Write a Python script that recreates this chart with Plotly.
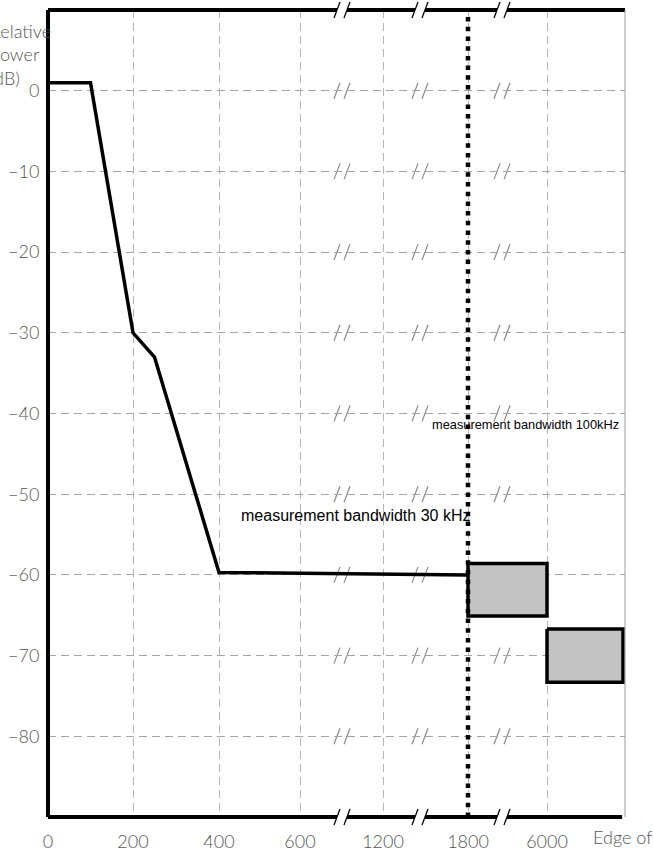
import numpy as np
import plotly.graph_objects as go

# ---------------- data ----------------
x_tick_labels = ["0", "200", "400", "600", "1200", "1800", "6000"]
x_tick_khz = [0, 200, 400, 600, 1200, 1800, 6000]
y_tick_vals = [0, -10, -20, -30, -40, -50, -60, -70, -80]
y_tick_labels = ["0", "\u221210", "\u221220", "\u221230", "\u221240", "\u221250",
                 "\u221260", "\u221270", "\u221280"]

mask_khz = [0, 100, 200, 250, 400, 1800]
mask_db = [1, 1, -30, -33, -59.7, -60]

box_left_khz = [1800, 6000]
box_top_db = [-58.6, -66.7]
box_bottom_db = [-65.1, -73.3]

marker_khz = 1800

# ---------------- broken-axis scale ----------------
X_TICK_POS = [0, 85, 171, 252, 335, 420, 499]   # display position of each tick
X_END = 577
Y_RANGE = [-90, 10]
BREAK_POS = [294, 372, 454]


def xpos(f):
    return np.interp(f, x_tick_khz, X_TICK_POS)


FONT_AX = "Liberation Sans Narrow, Lato, sans-serif"
GRAY_TXT = "#555555"
AXFONT = dict(family=FONT_AX, size=18, color=GRAY_TXT, weight=300)

fig = go.Figure()

# mask curve
fig.add_trace(go.Scatter(x=xpos(mask_khz), y=mask_db, mode="lines",
                         line=dict(color="black", width=3.5), hoverinfo="skip",
                         showlegend=False))

# boxes
lefts = list(xpos(box_left_khz))
rights = lefts[1:] + [X_END - 2]
for l, r, t, b in zip(lefts, rights, box_top_db, box_bottom_db):
    fig.add_trace(go.Scatter(x=[l, r, r, l, l], y=[t, t, b, b, t], mode="lines",
                             fill="toself", fillcolor="#c3c3c3",
                             line=dict(color="black", width=3.5),
                             hoverinfo="skip", showlegend=False))

# dotted marker line
mx = float(xpos(marker_khz))
fig.add_trace(go.Scatter(x=[mx, mx], y=Y_RANGE, mode="lines",
                         line=dict(color="black", width=4.5, dash="4.5px,5.2px"),
                         hoverinfo="skip", showlegend=False))

shapes = []
# frame
shapes.append(dict(type="line", xref="paper", yref="paper", x0=0, x1=0, y0=0, y1=1,
                   line=dict(color="black", width=4), layer="above"))
shapes.append(dict(type="line", xref="paper", yref="paper", x0=0, x1=1, y0=1, y1=1,
                   line=dict(color="black", width=4), layer="above"))
shapes.append(dict(type="line", xref="paper", yref="paper", x0=0, x1=0.995, y0=0, y1=0,
                   line=dict(color="black", width=4), layer="above"))
shapes.append(dict(type="line", xref="paper", yref="paper", x0=1, x1=1, y0=0, y1=1,
                   line=dict(color="#999999", width=1), layer="above"))


def brk(xref, x, yref, y, color, lw, gap_h, layer):
    out = [dict(type="rect", xref=xref, yref=yref, xsizemode="pixel", ysizemode="pixel",
                xanchor=x, yanchor=y, x0=-5, x1=5, y0=-gap_h, y1=gap_h,
                fillcolor="white", line=dict(width=0), layer=layer)]
    for c in (-5, 5):
        out.append(dict(type="line", xref=xref, yref=yref, xsizemode="pixel",
                        ysizemode="pixel", xanchor=x, yanchor=y,
                        x0=c - 3, x1=c + 3, y0=-8, y1=8,
                        line=dict(color=color, width=lw), layer=layer))
    return out


for bx in BREAK_POS:
    for yp in (0, 1):
        shapes += brk("paper", bx / X_END, "paper", yp, "black", 1.3, 4, "above")
    for yv in y_tick_vals:
        shapes += brk("x", bx, "y", yv, "#8a8a8a", 1.2, 3, "below")

annotations = [
    dict(text="Relative<br>power<br>(dB)", xref="paper", yref="paper",
         x=-60 / X_END, y=(807 - 8) / 807, xanchor="left", yanchor="top", align="left",
         showarrow=False, font=dict(family=FONT_AX, size=18, color=GRAY_TXT, weight=300)),
    dict(text="Edge of TX<br>band + 2 MHz", xref="paper", yref="paper",
         x=543 / X_END, y=-7 / 807, xanchor="left", yanchor="top", align="left",
         showarrow=False, font=dict(family=FONT_AX, size=18, color=GRAY_TXT, weight=300)),
    dict(text="measurement bandwidth 30 kHz", xref="x", yref="y", x=307, y=-52.6,
         showarrow=False, font=dict(family="Liberation Sans, Arial, sans-serif",
                                    size=16, color="black")),
    dict(text="measurement bandwidth 100kHz", xref="x", yref="y", x=477, y=-41.4,
         showarrow=False, font=dict(family="Liberation Sans, Arial, sans-serif",
                                    size=12.8, color="black")),
]

fig.update_layout(
    width=653, height=854,
    margin=dict(l=48, r=28, t=10, b=37, pad=0, autoexpand=False),
    paper_bgcolor="white", plot_bgcolor="white",
    showlegend=False,
    shapes=shapes, annotations=annotations,
    xaxis=dict(range=[0, X_END], tickvals=X_TICK_POS, ticktext=x_tick_labels,
               showgrid=True, gridcolor="#b5b5b5", gridwidth=1, griddash="8px,5px",
               zeroline=False, showline=False, ticks="outside", ticklen=8,
               tickcolor="rgba(0,0,0,0)", automargin=False,
               tickfont=AXFONT, fixedrange=True),
    yaxis=dict(range=Y_RANGE, tickvals=y_tick_vals, ticktext=y_tick_labels,
               showgrid=True, gridcolor="#a5a5a5", gridwidth=1, griddash="8px,5px",
               zeroline=False, showline=False, ticks="outside", ticklen=4,
               tickcolor="rgba(0,0,0,0)", automargin=False,
               tickfont=AXFONT, fixedrange=True),
)

fig.write_html("out.html")
